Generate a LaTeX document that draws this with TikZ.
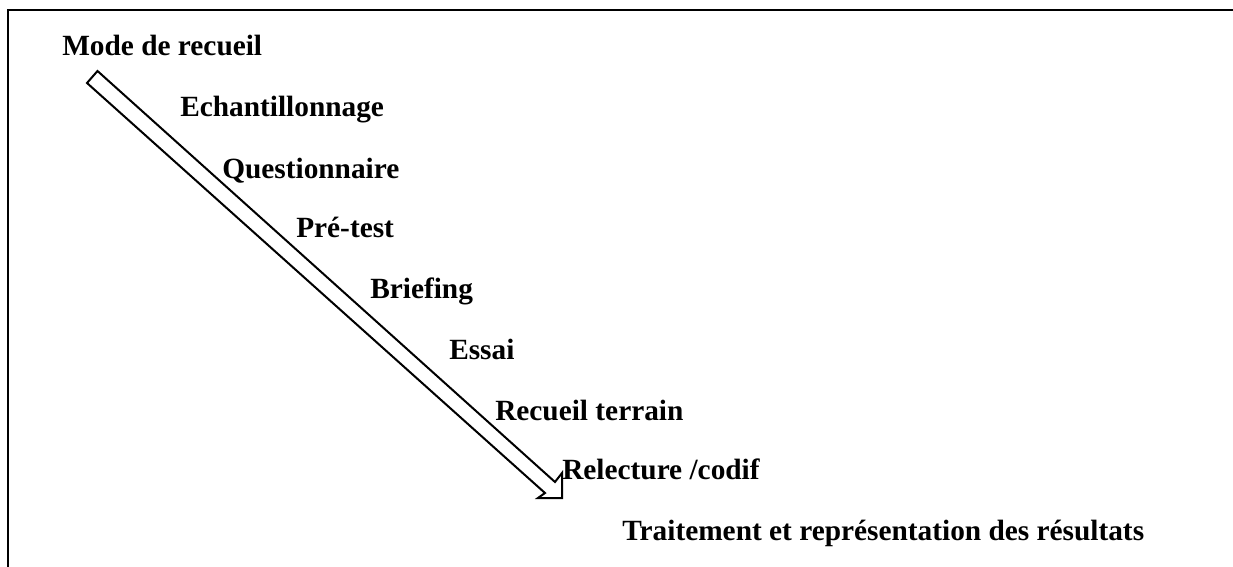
\documentclass[tikz,border=0pt]{standalone}
\usepackage{fontspec}
\setmainfont{Liberation Serif}
\begin{document}
\begin{tikzpicture}[x=0.75pt,y=-0.75pt,
  step label/.style={anchor=base west,inner sep=0pt,font=\fontsize{22pt}{26pt}\selectfont\bfseries},
  frame line/.style={line width=2.2pt,line cap=rect},
  block arrow/.style={draw=black,fill=white,line width=1.5pt,line join=miter}]
\useasboundingbox (0,0) rectangle (1233,567);
% open frame: left and top edges only
\draw[frame line] (8,567) -- (8,10) -- (1233,10);

% outlined block arrow running down the diagonal
\coordinate (tailA) at (97.5,71);
\coordinate (jointA) at (555,482);
\coordinate (wingA) at (562,473);
\coordinate (tip) at (562,498);
\coordinate (wingB) at (538,498);
\coordinate (jointB) at (545,493);
\coordinate (tailB) at (87,83);
\draw[block arrow] (tailA) -- (jointA) -- (wingA) -- (tip) -- (wingB) -- (jointB) -- (tailB) -- cycle;

% process steps
\node[step label] (mode) at (62,56) {Mode de recueil};
\node[step label] (ech) at (180,117) {Echantillonnage};
\node[step label] (quest) at (222,178) {Questionnaire};
\node[step label] (pretest) at (296,238) {Pré-test};
\node[step label] (brief) at (370,298) {Briefing};
\node[step label] (essai) at (449,359) {Essai};
\node[step label] (terrain) at (495,420) {Recueil terrain};
\node[step label] (relect) at (562,479) {Relecture /codif};
\node[step label] (traite) at (622,540) {Traitement et représentation des résultats};
\end{tikzpicture}
\end{document}
